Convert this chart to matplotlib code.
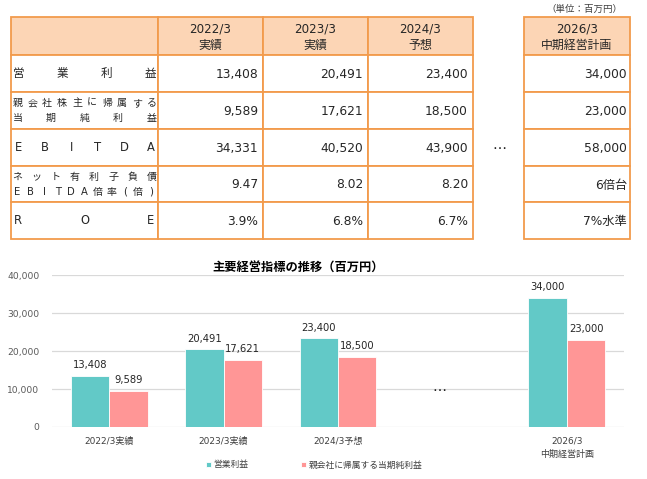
import matplotlib
matplotlib.use("Agg")
import matplotlib.pyplot as plt
import numpy as np
from matplotlib.patches import Rectangle

plt.rcParams['font.family'] = ['DejaVu Sans', 'Noto Sans CJK JP']

# ---------------- data ----------------
col_years = ['2022/3', '2023/3', '2024/3']
col_kinds = ['実績', '実績', '予想']
plan_year = '2026/3'
plan_kind = '中期経営計画'
row_labels = [['営業利益'],
              ['親会社株主に帰属する', '当期純利益'],
              ['EBITDA'],
              ['ネット有利子負債', 'EBITDA倍率(倍)'],
              ['ROE']]
table_values = [['13,408', '20,491', '23,400'],
                ['9,589', '17,621', '18,500'],
                ['34,331', '40,520', '43,900'],
                ['9.47', '8.02', '8.20'],
                ['3.9%', '6.8%', '6.7%']]
plan_values = ['34,000', '23,000', '58,000', '6倍台', '7%水準']
unit_note = '（単位：百万円）'

categories = ['2022/3実績', '2023/3実績', '2024/3予想', '', '2026/3\n中期経営計画']
operating_profit = [13408, 20491, 23400, np.nan, 34000]
net_profit = [9589, 17621, 18500, np.nan, 23000]
series_names = ['営業利益', '親会社に帰属する当期純利益']
chart_title = '主要経営指標の推移（百万円）'
y_ticks = [0, 10000, 20000, 30000, 40000]

# ---------------- style ----------------
W, H = 647, 479
TEAL = '#62C9C7'
PINK = '#FF9696'
HEAD = '#FCD5B5'
BORDER = '#F29B4C'
TXT = '#262626'

fig = plt.figure(figsize=(W / 100, H / 100), dpi=100)
tax = fig.add_axes([0, 0, 1, 1])
tax.set_xlim(0, W)
tax.set_ylim(H, 0)
tax.axis('off')

# table geometry (pixels)
col_x = [11, 158, 263, 368, 473]
plan_x = [524, 630]
row_y = [17, 55, 92, 129, 166, 202, 239]


def cell(x0, x1, y0, y1, fc):
    tax.add_patch(Rectangle((x0, y0), x1 - x0, y1 - y0, facecolor=fc,
                            edgecolor=BORDER, linewidth=1.3, zorder=1))


# header
cell(col_x[0], col_x[1], row_y[0], row_y[1], HEAD)
for i in range(3):
    cell(col_x[i + 1], col_x[i + 2], row_y[0], row_y[1], HEAD)
    cx = (col_x[i + 1] + col_x[i + 2]) / 2
    tax.text(cx, 29, col_years[i], ha='center', va='center', fontsize=8.6, color=TXT)
    tax.text(cx, 45, col_kinds[i], ha='center', va='center', fontsize=8.6, color=TXT)
cell(plan_x[0], plan_x[1], row_y[0], row_y[1], HEAD)
pcx = (plan_x[0] + plan_x[1]) / 2
tax.text(pcx, 29, plan_year, ha='center', va='center', fontsize=8.6, color=TXT)
tax.text(pcx, 45, plan_kind, ha='center', va='center', fontsize=8.6, color=TXT)
tax.text(622, 9, unit_note, ha='right', va='center', fontsize=6.8, color='#404040')


def distributed(label, y, x0, x1, size):
    n = len(label)
    cw = size * 1.25
    xs = np.linspace(x0 + cw / 2, x1 - cw / 2, n)
    for ch, xx in zip(label, xs):
        tax.text(xx, y, ch, ha='center', va='center', fontsize=size, color=TXT)


for r in range(5):
    y0, y1 = row_y[r + 1], row_y[r + 2]
    cell(col_x[0], col_x[1], y0, y1, 'white')
    lines = row_labels[r]
    if len(lines) == 1:
        distributed(lines[0], (y0 + y1) / 2, 13, 156, 8.3)
    else:
        distributed(lines[0], y0 + 11, 13, 156, 7.2)
        distributed(lines[1], y0 + 26, 13, 156, 7.2)
    for i in range(3):
        cell(col_x[i + 1], col_x[i + 2], y0, y1, 'white')
        tax.text(col_x[i + 2] - 5, (y0 + y1) / 2 + 1, table_values[r][i], ha='right',
                 va='center', fontsize=8.8, color=TXT)
    cell(plan_x[0], plan_x[1], y0, y1, 'white')
    tax.text(plan_x[1] - 3, (y0 + y1) / 2 + 1, plan_values[r], ha='right',
             va='center', fontsize=8.8, color=TXT)

tax.text(499, 145, '…', ha='center', va='center', fontsize=10, color=TXT)

# ---------------- bar chart ----------------
ax_l, ax_r, ax_t, ax_b = 52, 624, 275, 427
ax = fig.add_axes([ax_l / W, (H - ax_b) / H, (ax_r - ax_l) / W, (ax_b - ax_t) / H])
x = np.arange(len(categories))
bw = 0.336
b1 = ax.bar(x - bw / 2, operating_profit, bw, color=TEAL, edgecolor='white',
            linewidth=0.6, label=series_names[0], zorder=3)
b2 = ax.bar(x + bw / 2, net_profit, bw, color=PINK, edgecolor='white',
            linewidth=0.6, label=series_names[1], zorder=3)
for bars in (b1, b2):
    for rect in bars:
        h = rect.get_height()
        if np.isnan(h):
            continue
        ax.annotate(f'{int(h):,}', (rect.get_x() + rect.get_width() / 2, h),
                    xytext=(0, 4), textcoords='offset points', ha='center',
                    va='bottom', fontsize=7.2, color=TXT)
ax.text(2.89, 8800, '…', ha='center', va='bottom', fontsize=10, color=TXT)

ax.set_xlim(-0.5, len(categories) - 0.5)
ax.set_ylim(0, 40000)
ax.set_yticks(y_ticks)
ax.set_yticklabels([f'{v:,}' for v in y_ticks], fontsize=6.6, color='#595959')
ax.set_xticks(x)
ax.set_xticklabels(categories, fontsize=6.5, color='#404040', linespacing=1.6,
                   va='top')
ax.tick_params(axis='both', length=0)
ax.tick_params(axis='y', pad=9)
ax.tick_params(axis='x', pad=7)
ax.grid(axis='y', color='#D9D9D9', linewidth=0.9, zorder=0)
for s in ['top', 'right', 'left', 'bottom']:
    ax.spines[s].set_visible(False)

fig.text(298 / W, 1 - 268 / H, chart_title, ha='center', va='center',
         fontsize=8.8, fontweight='bold', color='#000000')

leg = fig.legend(handles=[b1, b2], labels=series_names, loc='center',
                 bbox_to_anchor=(314 / W, 1 - 465 / H), ncol=2, frameon=False,
                 fontsize=6.3, handlelength=0.6, handleheight=0.6,
                 handletextpad=0.3, columnspacing=6.0, labelcolor='#404040')

fig.savefig('out.png', dpi=100)
